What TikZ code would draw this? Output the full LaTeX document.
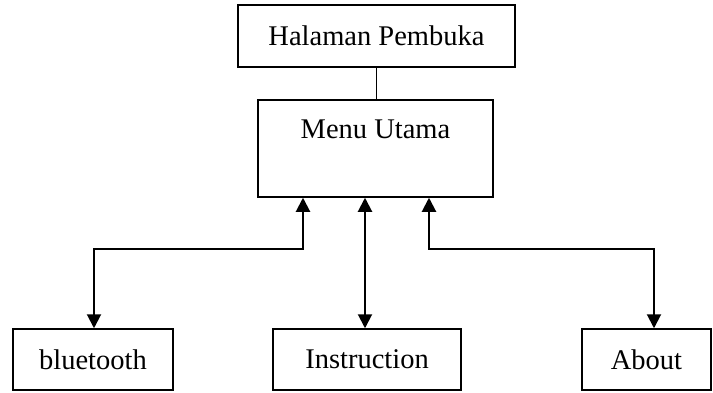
\documentclass[tikz,border=0pt]{standalone}
\usepackage{fontspec}
\setmainfont{Liberation Serif}
\usetikzlibrary{arrows.meta}
\begin{document}
\begin{tikzpicture}[x=1pt,y=1pt,
  box/.style={draw, line width=1.5pt, inner sep=0pt, align=center, font=\fontsize{28.5}{30}\selectfont},
  arr/.style={line width=2pt, {Triangle[width=14pt,length=14pt]}-{Triangle[width=14pt,length=14pt]}}]
\useasboundingbox (0,0) rectangle (713,-392);
\node[box, minimum width=277pt, minimum height=62pt] (open) at (376.5,-36) {Halaman Pembuka};
\node[box, minimum width=235pt, minimum height=97pt] (menu) at (375.5,-148.5) {Menu Utama\\\strut};
\node[box, minimum width=160pt, minimum height=61pt] (blue) at (93,-359.5) {bluetooth};
\node[box, minimum width=188pt, minimum height=61pt] (instr) at (367,-359.5) {Instruction};
\node[box, minimum width=129pt, minimum height=61pt] (about) at (646.5,-359.5) {About};
\coordinate (a1) at (303,-249);
\coordinate (b1) at (94,-249);
\coordinate (a3) at (429,-249);
\coordinate (b3) at (654,-249);
\coordinate (mid) at (365,-249);
\draw[line width=1.5pt] (open) -- (menu.north -| open);
\draw[arr] (menu.south -| a1) -- (a1) -- (b1) -- (blue.north -| b1);
\draw[arr] (menu.south -| mid) -- (instr.north -| mid);
\draw[arr] (menu.south -| a3) -- (a3) -- (b3) -- (about.north -| b3);
\end{tikzpicture}
\end{document}
